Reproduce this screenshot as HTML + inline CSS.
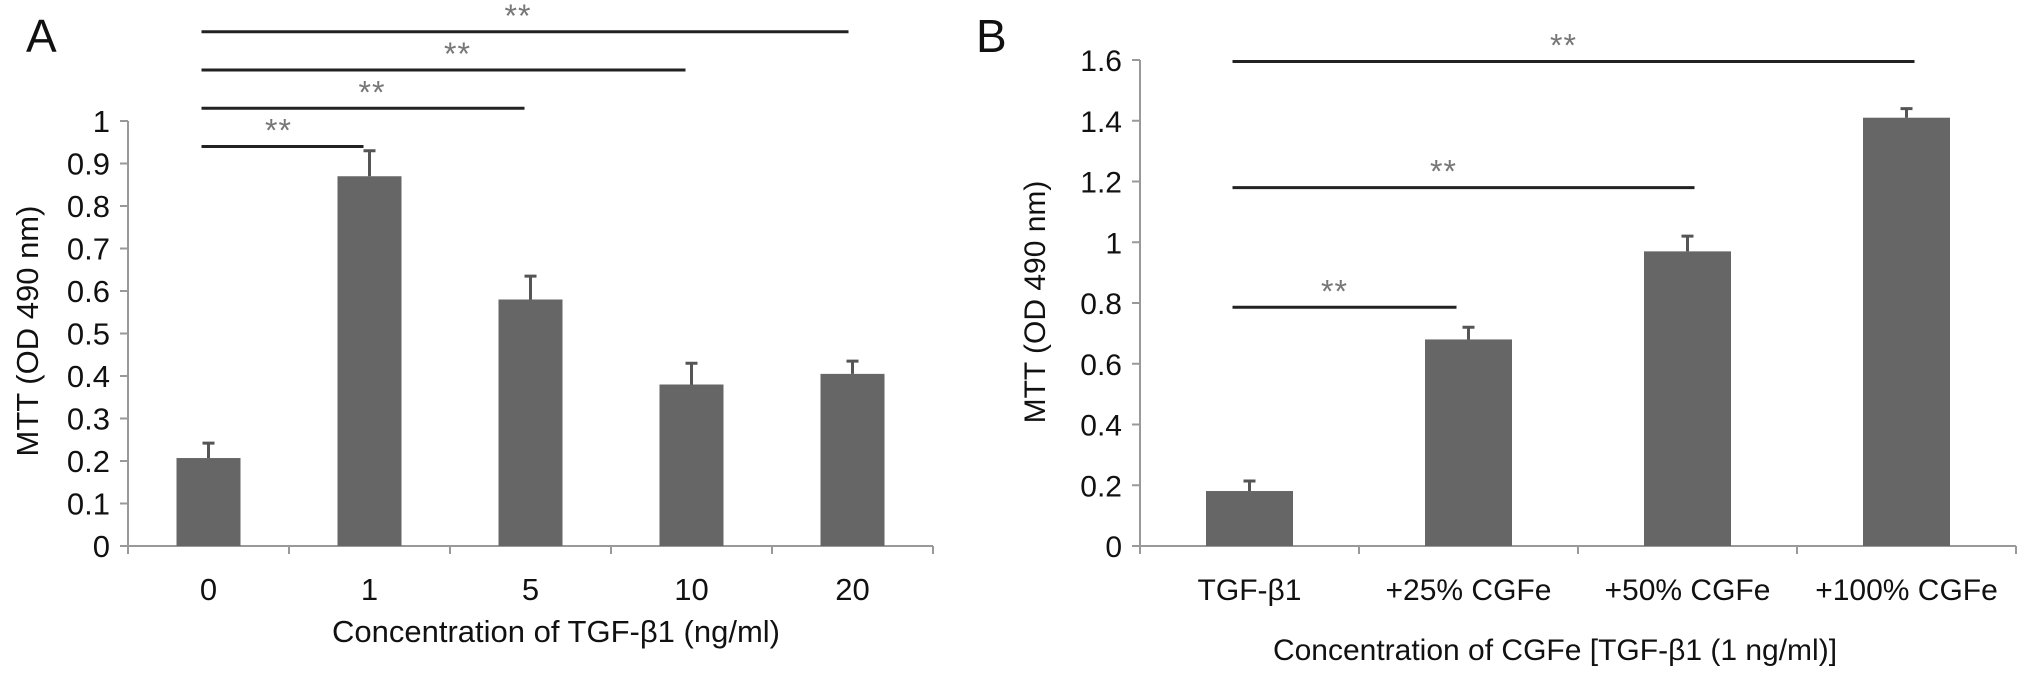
<!DOCTYPE html>
<html><head><meta charset="utf-8"><style>
html,body{margin:0;padding:0;background:#fff}
svg{display:block;font-family:"Liberation Sans",Arial,sans-serif}
</style></head><body>
<svg id="fig" width="2032" height="679" viewBox="0 0 2032 679"></svg>
<script>
const catsA=["0","1","5","10","20"];
const valsA=[0.207,0.87,0.58,0.38,0.405];
const errA=[0.242,0.93,0.635,0.43,0.435];
const ticksA=["0","0.1","0.2","0.3","0.4","0.5","0.6","0.7","0.8","0.9","1"];
const tickValsA=[0,0.1,0.2,0.3,0.4,0.5,0.6,0.7,0.8,0.9,1];
const sigEndA=[1,2,3,4];
const sigYA=[0.94,1.03,1.12,1.21];
const catsB=["TGF-β1","+25% CGFe","+50% CGFe","+100% CGFe"];
const valsB=[0.181,0.68,0.97,1.41];
const errB=[0.214,0.72,1.02,1.44];
const ticksB=["0","0.2","0.4","0.6","0.8","1","1.2","1.4","1.6"];
const tickValsB=[0,0.2,0.4,0.6,0.8,1,1.2,1.4,1.6];
const sigEndB=[1,2,3];
const sigYB=[0.786,1.18,1.595];

const NS="http://www.w3.org/2000/svg";
const svg=document.getElementById('fig');
function mk(t,a,p){const e=document.createElementNS(NS,t);for(const k in a)e.setAttribute(k,a[k]);(p||svg).appendChild(e);return e;}

function panel(o){
  const g=mk('g',{});
  
  
  const n=o.cats.length, step=(o.right-o.x0)/n;
  const xC=i=>o.x0+step*(i+0.5);
  const y=v=>o.y0-(v/o.max)*(o.y0-o.yTop);
  const ya=mk('line',{x1:o.x0,y1:o.yTop,x2:o.x0,y2:o.y0+8,stroke:'#999','stroke-width':2},g);
  
  const xa=mk('line',{x1:o.x0-8,y1:o.y0,x2:o.right,y2:o.y0,stroke:'#999','stroke-width':2},g);
  
  o.tickVals.forEach((v,i)=>{
    mk('line',{x1:o.x0-8,y1:y(v),x2:o.x0,y2:y(v),stroke:'#999','stroke-width':2},g);
    const t=mk('text',{x:o.x0-18,y:y(v)+11,'text-anchor':'end','font-size':o.tf,fill:'#111'},g);
    t.textContent=o.ticks[i];
    
  });
  for(let i=0;i<=n;i++) mk('line',{x1:o.x0+step*i,y1:o.y0,x2:o.x0+step*i,y2:o.y0+8,stroke:'#999','stroke-width':2},g);
  o.cats.forEach((c,i)=>{
    const bw=o.bw;
    const r=mk('rect',{x:xC(i)-bw/2,y:y(o.vals[i]),width:bw,height:o.y0-y(o.vals[i]),fill:'#666'},g);
    
    const e=mk('path',{d:`M${xC(i)} ${y(o.vals[i])}V${y(o.err[i])}M${xC(i)-6} ${y(o.err[i])}H${xC(i)+6}`,stroke:'#555','stroke-width':3,fill:'none'},g);
    
    const t=mk('text',{x:xC(i),y:o.y0+54,'text-anchor':'middle','font-size':o.tf,fill:'#111'},g);
    t.textContent=c;
    
  });
  o.sigEnd.forEach((e,k)=>{
    const x1=xC(0)-o.startOff,x2=xC(e)+o.endOff[k], yy=y(o.sigY[k]);
    const l=mk('line',{x1:x1,y1:yy,x2:x2,y2:yy,stroke:'#222','stroke-width':3},g);
    
    const s=mk('text',{x:(x1+x2)/2+o.starDx[k],y:yy-5,'text-anchor':'middle','font-size':32,fill:'#777','letter-spacing':'1'},g);
    s.textContent='**';
    
  });
  const yt=mk('text',{x:0,y:0,'text-anchor':'middle','font-size':o.tf,fill:'#111',transform:`translate(${o.ytx},${o.yty}) rotate(-90)`},g);
  yt.textContent='MTT (OD 490 nm)';
  
  const xt=mk('text',{x:o.xtx,y:o.xty,'text-anchor':'middle','font-size':o.tf,fill:'#111'},g);
  xt.textContent=o.xtitle;
  
  const lb=mk('text',{x:o.lx,y:52,'font-size':46,fill:'#111'},g);
  lb.textContent=o.label;
  
}
panel({name:'panel-a',cats:catsA,vals:valsA,err:errA,ticks:ticksA,tickVals:tickValsA,sigEnd:sigEndA,sigY:sigYA,
  x0:128,right:933,y0:546,yTop:121,max:1,bw:64,tf:31,startOff:7,endOff:[-6,-6,-6,-4],starDx:[-4,9,14,-7],ytx:38,yty:331,xtx:556,xty:642,
  xtitle:'Concentration of TGF-β1 (ng/ml)',label:'A',lx:26});
panel({name:'panel-b',cats:catsB,vals:valsB,err:errB,ticks:ticksB,tickVals:tickValsB,sigEnd:sigEndB,sigY:sigYB,
  x0:1140,right:2016,y0:546,yTop:60,max:1.6,bw:87,tf:30,startOff:17,endOff:[-12,7,8],starDx:[-10,-20,-10],ytx:1045,yty:302,xtx:1555,xty:660,
  xtitle:'Concentration of CGFe [TGF-β1 (1 ng/ml)]',label:'B',lx:976});
</script>
</body></html>
